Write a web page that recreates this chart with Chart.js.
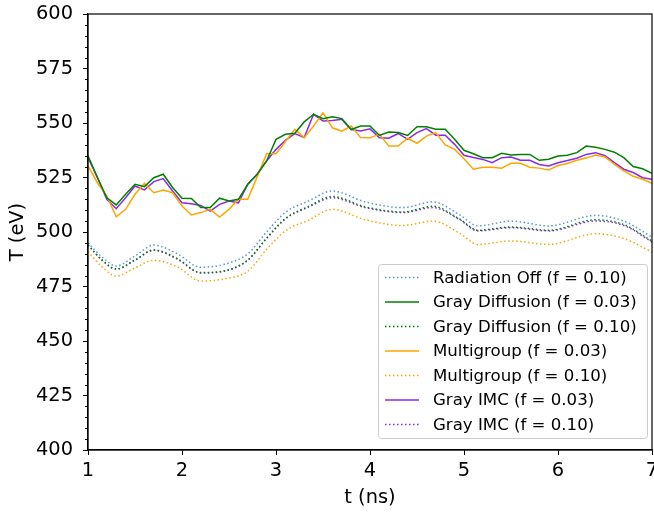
<!DOCTYPE html>
<html>
<head>
<meta charset="utf-8">
<script src="https://cdn.jsdelivr.net/npm/chart.js@4"></script>
<style>
    html, body { margin: 0; padding: 0; background: #fff; }
    #wrap { width: 654px; height: 512px; }
</style>
</head>
<body>
<div id="wrap"><canvas id="chart" width="654" height="512"></canvas></div>
<script>
// solid runs (f = 0.03), sampled every 0.1 ns
const times = [1.0, 1.1, 1.2, 1.3, 1.4, 1.5, 1.6, 1.7, 1.8, 1.9,
    2.0, 2.1, 2.2, 2.3, 2.4, 2.5, 2.6, 2.7, 2.8, 2.9,
    3.0, 3.1, 3.2, 3.3, 3.4, 3.5, 3.6, 3.7, 3.8, 3.9,
    4.0, 4.1, 4.2, 4.3, 4.4, 4.5, 4.6, 4.7, 4.8, 4.9,
    5.0, 5.1, 5.2, 5.3, 5.4, 5.5, 5.6, 5.7, 5.8, 5.9,
    6.0, 6.1, 6.2, 6.3, 6.4, 6.5, 6.6, 6.7, 6.8, 6.9, 7.0];

const grayDiff03 = [535, 525, 515.7, 512.4, 517.3, 521.9, 520.8, 524.9, 526.5, 520.4,
    515.5, 515.4, 511.2, 511.2, 515.5, 514.2, 515, 521.9, 526.5, 532.6,
    542.5, 544.8, 545.3, 550.5, 554, 552, 552.9, 552, 547, 548.6,
    548.6, 544.3, 545.9, 545.6, 544.3, 548.3, 548.3, 547.1, 547.1, 542.5,
    537.5, 535.9, 534.1, 534.1, 536.1, 535.3, 535.6, 535.6, 532.9, 533.4,
    534.9, 535.2, 536.4, 539.4, 538.9, 537.9, 536.6, 534.1, 530, 529, 526.9];

const multigroup03 = [530.3, 522.6, 516.5, 507, 510.4, 517.3, 522.3, 518, 519.3, 518,
    511.9, 507.8, 508.9, 510.4, 506.9, 510.4, 515, 515, 525.4, 535.9,
    535.9, 541.5, 547.1, 543.3, 548.6, 554.7, 547.8, 546.3, 548.6, 543.3,
    543.2, 544.9, 539.4, 539.4, 543, 540.7, 544, 545.6, 539.9, 537.9,
    533.6, 528.8, 529.7, 529.7, 529.3, 531.5, 531.5, 529.7, 529.3, 528.4,
    530.5, 531.4, 532.9, 533.9, 535.3, 534.4, 531, 528, 525.6, 524.2, 522.3];

const grayImc03 = [534, 525, 515, 510.7, 515.7, 521.1, 519.3, 523.1, 524.5, 518.8,
    513.4, 513, 512.2, 509.6, 512.7, 514.2, 513.4, 521.9, 526.5, 532.6,
    537.9, 542, 545.1, 543.3, 554, 550.9, 551.2, 551.7, 547, 546.3,
    547.3, 543.2, 543, 545.2, 542.5, 545.6, 547.4, 544.4, 544.4, 540.2,
    535.2, 534.2, 533.3, 531.8, 534.1, 534.4, 532.9, 532.9, 531, 530.3,
    531.8, 532.8, 533.8, 535.6, 536.4, 535, 531.8, 528.8, 527.3, 524.9, 524.2];

// smooth runs (f = 0.10), read at the turning points
const smoothTimes = [1.0, 1.15, 1.3, 1.5, 1.7, 1.95, 2.2, 2.45, 2.7, 2.9, 3.1, 3.35,
    3.6, 3.95, 4.35, 4.67, 4.95, 5.15, 5.5, 5.9, 6.4, 6.7, 7.0];

const radOff10 = [495, 488.5, 484.4, 489, 494, 490, 483.8, 485.2, 490, 500, 509, 514.3,
    518.8, 513.8, 511.2, 513.8, 508, 502.8, 505, 502.8, 507.6, 505, 497.7];
const grayDiff10 = [494, 487.2, 483, 487.2, 491.8, 487.8, 481.4, 482.2, 487.2, 497.2, 506.2, 511.8,
    516.3, 511.5, 509.2, 511.8, 506, 500.8, 502.3, 500.8, 505.6, 503.4, 495.8];
const multigroup10 = [491, 484, 479.8, 483.5, 487, 484, 477.5, 478.5, 482, 492, 500.5, 505.5,
    510.4, 505.6, 503, 505, 499.5, 494.3, 495.9, 494.3, 499.2, 497, 490.8];
const grayImc10 = [494, 487, 483, 487, 491.6, 487.6, 481.2, 482, 487, 497, 506, 511.5,
    515.7, 511.2, 508.9, 511.2, 505.8, 500.5, 502, 500.5, 505, 503, 495.4];

const yTicks = [400, 425, 450, 475, 500, 525, 550, 575, 600];
const xTicks = [1, 2, 3, 4, 5, 6, 7];

const FONT = 'DejaVu Sans';
const AXIS_SIZE = 19.4;
const LEGEND_SIZE = 16.6;
const DOT = [1.5, 2.5];

function pts(xs, ys) {
    return xs.map((x, i) => ({ x: x, y: ys[i] }));
}

function solid(label, color, ys) {
    return {
        label: label, data: pts(times, ys), borderColor: color, backgroundColor: color,
        borderWidth: 1.5, pointRadius: 0, tension: 0
    };
}

function dotted(label, color, ys) {
    return {
        label: label, data: pts(smoothTimes, ys), borderColor: color, backgroundColor: color,
        borderWidth: 1.5, borderDash: DOT, pointRadius: 0, cubicInterpolationMode: 'monotone'
    };
}

const datasets = [
    dotted('Radiation Off (f = 0.10)', '#5b97c9', radOff10),
    solid('Gray Diffusion (f = 0.03)', '#008000', grayDiff03),
    dotted('Gray Diffusion (f = 0.10)', '#008000', grayDiff10),
    solid('Multigroup (f = 0.03)', '#ffa500', multigroup03),
    dotted('Multigroup (f = 0.10)', '#ffa500', multigroup10),
    solid('Gray IMC (f = 0.03)', '#8a2be2', grayImc03),
    dotted('Gray IMC (f = 0.10)', '#8a2be2', grayImc10)
];

// frame, minor ticks and the in-plot legend
const extras = {
    id: 'extras',
    afterDraw(chart) {
        const ctx = chart.ctx;
        const a = chart.chartArea;
        const y = chart.scales.y;
        ctx.save();
        ctx.strokeStyle = '#000';
        ctx.lineWidth = 1;
        for (let v = 400; v <= 600; v += 5) {
            if (v % 25 === 0) continue;
            const py = Math.round(y.getPixelForValue(v)) + 0.5;
            ctx.beginPath();
            ctx.moveTo(a.left - 3, py);
            ctx.lineTo(a.left, py);
            ctx.stroke();
        }
        ctx.lineWidth = 1.2;
        ctx.strokeRect(a.left, a.top, a.right - a.left, a.bottom - a.top);

        // legend box
        const bx = 378, by = 264, bw = 269, bh = 174;
        ctx.fillStyle = 'rgba(255,255,255,0.8)';
        ctx.strokeStyle = '#cccccc';
        ctx.lineWidth = 1;
        ctx.beginPath();
        ctx.roundRect(bx + 0.5, by + 0.5, bw, bh, 3);
        ctx.fill();
        ctx.stroke();
        ctx.font = LEGEND_SIZE + 'px "' + FONT + '"';
        ctx.textBaseline = 'middle';
        ctx.textAlign = 'left';
        chart.data.datasets.forEach((ds, i) => {
            const ry = by + 13.5 + i * 24.5;
            ctx.strokeStyle = ds.borderColor;
            ctx.lineWidth = 1.5;
            ctx.setLineDash(ds.borderDash || []);
            ctx.beginPath();
            ctx.moveTo(bx + 7, ry);
            ctx.lineTo(bx + 41, ry);
            ctx.stroke();
            ctx.setLineDash([]);
            ctx.fillStyle = '#000';
            ctx.fillText(ds.label, bx + 55, ry + 1);
        });
        ctx.restore();
    }
};

new Chart(document.getElementById('chart'), {
    type: 'line',
    data: { datasets: datasets },
    options: {
        responsive: false,
        animation: false,
        layout: { padding: { top: 14, right: 2, left: 0, bottom: 0 } },
        plugins: { legend: { display: false }, tooltip: { enabled: false } },
        scales: {
            x: {
                type: 'linear', min: 1, max: 7,
                afterBuildTicks: s => { s.ticks = xTicks.map(v => ({ value: v })); },
                afterFit: s => { s.height = 62; s.paddingLeft = 0; s.paddingRight = 0; },
                grid: { drawOnChartArea: false, tickLength: 5, color: '#000' },
                border: { color: '#000', width: 1.2 },
                ticks: { color: '#000', padding: 4, maxRotation: 0, font: { family: FONT, size: AXIS_SIZE } },
                title: { display: true, text: 't (ns)', color: '#000', padding: { top: 1, bottom: 2 },
                    font: { family: FONT, size: AXIS_SIZE } }
            },
            y: {
                min: 400, max: 600,
                afterBuildTicks: s => { s.ticks = yTicks.map(v => ({ value: v })); },
                afterFit: s => { s.width = 88; s.paddingTop = 0; s.paddingBottom = 0; },
                grid: { drawOnChartArea: false, tickLength: 5, color: '#000' },
                border: { color: '#000', width: 1.2 },
                ticks: { color: '#000', padding: 10, font: { family: FONT, size: AXIS_SIZE } },
                title: { display: true, text: 'T (eV)', color: '#000', padding: { top: 6, bottom: 0 },
                    font: { family: FONT, size: AXIS_SIZE } }
            }
        }
    },
    plugins: [extras]
});
</script>
</body>
</html>
